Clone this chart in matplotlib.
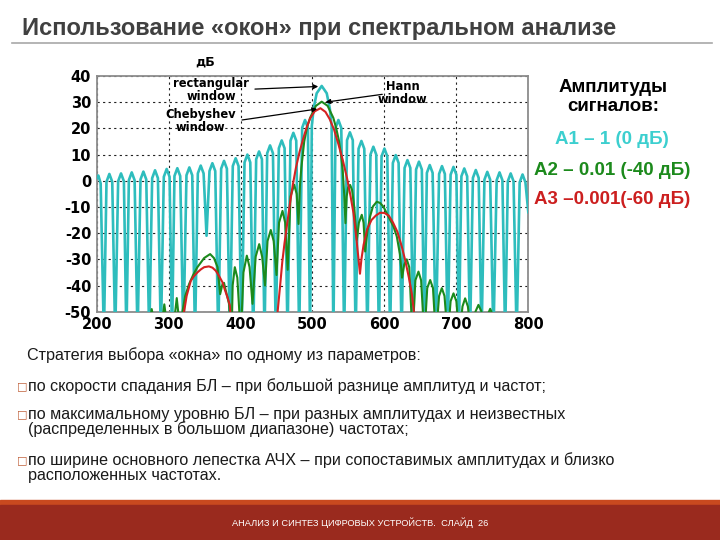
import matplotlib.pyplot as plt
from matplotlib.lines import Line2D
from matplotlib.patches import Rectangle

plt.rcParams['axes.unicode_minus'] = False

# Спектр (дБ) - прямоугольное окно (бирюзовый)
rect_x = [200, 202.3, 205.5, 210,
          213.6, 217.6, 221.6, 225.7,
          229.8, 233.8, 237.8, 241.3,
          244.7, 248.7, 252.7, 256.8,
          260.9, 264.9, 268.9, 273.0,
          277.1, 281.1, 285.1, 289.2,
          293.3, 297.3, 301.3, 304.7,
          308.1, 312.1, 316.1, 320.5,
          324.8, 328.8, 332.8, 336.7,
          340.6, 344.6, 348.6, 352.7,
          356.8, 360.8, 364.8, 369.0,
          373.0, 377.0, 381.0, 385.1,
          389.2, 393.2, 397.2, 401.4,
          405.5, 409.5, 413.5, 417.6,
          421.7, 425.7, 429.7, 433.3,
          437.0, 441.0, 445.0, 449.0,
          453.2, 457.2, 461.2, 465.3,
          469.4, 473.4, 477.4, 481.5,
          485.6, 489.6, 493.6, 496.6,
          499.0, 501.5, 505.8, 512.8, 519.8, 524.1, 526.6, 529.0,
          532.0, 536.0, 540.0, 544.0,
          548.0, 552.0, 556.0, 560.0,
          564.0, 568.0, 572.0, 576.3,
          580.6, 584.6, 588.6, 592.3,
          596.0, 600.0, 604.0, 607.9,
          611.7, 615.7, 619.7, 623.9,
          628.0, 632.0, 636.0, 640.0,
          644.0, 648.0, 652.0, 655.5,
          659.0, 663.0, 667.0, 671.5,
          676.0, 680.0, 684.0, 688.0,
          692.0, 696.0, 700.0, 703.5,
          707.0, 711.0, 715.0, 719.0,
          723.0, 727.0, 731.0, 735.0,
          739.0, 743.0, 747.0, 751.5,
          756.0, 760.0, 764.0, 767.8,
          771.5, 775.5, 779.5, 783.8,
          788.0, 792.0, 796.0, 800]
rect_y = [1.0, 2.0, -1.0, -60,
          -0.4, 2.6, -0.4, -60,
          -0.2, 2.8, -0.2, -60,
          0.2, 3.2, 0.2, -60,
          0.5, 3.5, 0.5, -60,
          1.0, 4.0, 1.0, -60,
          1.5, 4.5, 1.5, -60,
          1.8, 4.8, 1.8, -60,
          2.1, 5.1, 2.1, -60,
          2.8, 5.8, 2.8, -21,
          3.7, 6.7, 3.7, -60,
          4.6, 7.6, 4.6, -60,
          5.6, 8.6, 5.6, -60,
          7.0, 10.0, 7.0, -60,
          8.2, 11.2, 8.2, -60,
          10.5, 13.5, 10.5, -60,
          12.4, 15.4, 12.4, -60,
          15.3, 18.3, 15.3, -60,
          20.2, 23.2, 20.2, -60,
          20.8, 27.5, 33.4, 36.2, 33.4, 27.5, 20.8, -60,
          20.2, 23.2, 20.2, -60,
          15.5, 18.5, 15.5, -60,
          12.2, 15.2, 12.2, -60,
          10.0, 13.0, 10.0, -60,
          9.3, 12.3, 9.3, -60,
          6.8, 9.8, 6.8, -60,
          4.9, 7.9, 4.9, -60,
          4.3, 7.3, 4.3, -60,
          3.0, 6.0, 3.0, -60,
          2.6, 5.6, 2.6, -60,
          2.3, 5.3, 2.3, -60,
          1.7, 4.7, 1.7, -60,
          1.1, 4.1, 1.1, -60,
          0.4, 3.4, 0.4, -60,
          0.2, 3.2, 0.2, -60,
          -0.2, 2.8, -0.2, -60,
          -0.6, 2.4, -0.6, -12]

# Окно Ханна (зелёный)
hann_x = [270, 276.5, 283, 288, 294, 300, 305, 311.3, 317,
          319.2, 323, 328.5, 334, 340, 349.4, 357.7, 363, 368, 371.6,
          374.9, 377, 379.5, 384, 387.5,
          389, 392, 395.5, 400.4, 404, 408.7, 412.5, 416.6,
          421, 425.9, 430, 434, 437.5, 442, 446, 450,
          453.5, 458.3, 462, 465.5, 469.5, 474.5, 478, 480.6,
          482.5, 484.5, 488.5, 492.5, 496.6, 504.7, 512.8, 521, 529,
          533, 537, 540, 542, 544, 545.8,
          547.5, 549.5, 552.3, 555, 558, 561.6, 564.5, 568.5, 571, 573.2,
          576.5, 580, 584, 589.4, 594, 598.6, 605.6, 612.6, 617.2, 621.5,
          624.5, 627.5, 631, 634.5, 639, 643, 647.3, 651, 655.5,
          659.5, 663.6, 667.5, 671.5, 676, 679.8, 683.5, 688,
          692, 696, 700, 704, 708.5, 712.2, 716, 721,
          726.5, 730.7, 735, 739, 743, 747, 751, 755]
hann_y = [-60, -49.0, -60, -60, -47.2, -60, -60, -44.8, -60,
          -50, -44, -39.4, -36, -33, -29.5, -28, -29.5, -33, -43.3,
          -39.4, -39, -42, -47, -60,
          -40, -33, -37, -60, -35, -28.6, -33, -47,
          -29, -24.2, -29, -40, -23, -18.8, -23, -36,
          -16, -11.5, -16, -34, -6, -1.5, -5, -16.5,
          -2, 5, 15, 20.5, 24, 28.6, 30.2, 28.6, 24,
          20, 15, 9, 4, -5, -16.2,
          -6, -2.5, -1.6, -3.5, -10, -22.6, -16, -13, -16, -27,
          -19, -13.7, -9.8, -8.0, -8.5, -9.9, -13.7, -17.5, -21.3, -28,
          -37, -32, -30, -33, -60, -38, -34.7, -38, -60,
          -41, -37.9, -41, -60, -44, -41, -44, -60,
          -46, -43, -46, -60, -48, -44.9, -48, -60,
          -50, -47.4, -50, -60, -51.5, -48.9, -51.5, -60]

# Окно Чебышева (красный)
cheb_x = [318, 321.5, 325, 330.8, 335, 340, 345, 349.4, 356, 361, 365.6,
          370, 374.9, 378, 381.8, 385, 388.5,
          449, 451.5, 455, 458, 461, 465, 469, 473, 477, 482, 487, 492,
          497, 503, 511, 518, 524, 530, 536, 542, 548, 553, 557, 561,
          564, 566, 568, 571, 576, 582, 588, 594, 600, 606, 612, 618,
          624, 629, 634, 638, 641, 643]
cheb_y = [-60, -50, -44, -38.2, -36.5, -35, -33.8, -33, -32.7, -33.2, -34.4,
          -36.3, -38.8, -41.5, -44.5, -47.5, -60,
          -60, -50, -40, -31, -24, -16, -8, -1, 5, 11, 16, 20.5,
          24, 26.5, 27.7, 26.3, 23.5, 19.5, 14, 8, 1, -6, -12.4, -22,
          -30, -35.5, -30, -24.5, -18.5, -15, -13.3, -12.2, -12.3, -13.3, -16, -19.5,
          -25, -30.5, -37, -43, -50, -60]

x_ticks = [200, 300, 400, 500, 600, 700, 800]
y_ticks = [40, 30, 20, 10, 0, -10, -20, -30, -40, -50]

title = 'Использование «окон» при спектральном анализе'
amp_head = 'Амплитуды\nсигналов:'
amp_lines = ['А1 – 1 (0 дБ)', 'А2 – 0.01 (-40 дБ)', 'А3 –0.001(-60 дБ)']
intro = 'Стратегия выбора «окна» по одному из параметров:'
bullets = ['по скорости спадания БЛ – при большой разнице амплитуд и частот;',
           'по максимальному уровню БЛ – при разных амплитудах и неизвестных\n'
           '(распределенных в большом диапазоне) частотах;',
           'по ширине основного лепестка АЧХ – при сопоставимых амплитудах и близко\n'
           'расположенных частотах.']
footer = 'АНАЛИЗ И СИНТЕЗ ЦИФРОВЫХ УСТРОЙСТВ.  СЛАЙД  26'

W, H = 720, 540
arial = ['Liberation Sans', 'DejaVu Sans']

fig = plt.figure(figsize=(7.2, 5.4), dpi=100)

def fx(px):
    return px / W

def fy(py):
    return 1 - py / H

# заголовок
fig.text(fx(22), fy(28), title, fontsize=17, fontweight='bold', color='#404040',
         family=arial, va='center', ha='left')
fig.add_artist(Line2D([fx(12), fx(712)], [fy(43), fy(43)], color='#a8a8a8', lw=1.2))

# график
ax = fig.add_axes([fx(96.7), fy(311.7), (528.3 - 96.7) / W, (311.7 - 76) / H])
ax.plot(rect_x, rect_y, color='#2ebdbd', lw=1.9, zorder=3)
ax.plot(hann_x, hann_y, color='#1c8a1c', lw=1.5, zorder=4)
ax.plot(cheb_x, cheb_y, color='#d42222', lw=1.5, zorder=5)
ax.set_xlim(200, 800)
ax.set_ylim(-50, 40)
ax.set_xticks(x_ticks)
ax.set_yticks(y_ticks)
ax.tick_params(length=0, labelsize=10.5)
ax.tick_params(axis='x', pad=4)
ax.tick_params(axis='y', pad=4)
for lab in ax.get_xticklabels() + ax.get_yticklabels():
    lab.set_fontweight('bold')
ax.grid(True, color='#222222', linestyle=(0, (2, 3)), lw=0.8)
for s in ax.spines.values():
    s.set_color('#8c8c8c')
    s.set_linewidth(1.3)

ax.text(351, 43, 'дБ', fontsize=9, fontweight='bold', ha='center', va='bottom')

arr = dict(arrowstyle='-|>', color='black', lw=0.9, mutation_scale=7,
           shrinkA=0, shrinkB=0)
labels = [('rectangular\nwindow', (359, 34.6), (420, 35.0), (508, 36.0)),
          ('Hann\nwindow', (625, 33.5), (597, 33.0), (518, 30.0)),
          ('Chebyshev\nwindow', (344, 22.8), (402, 23.2), (506.5, 27.4))]
for txt, tpos, start, tip in labels:
    ax.text(tpos[0], tpos[1], txt, fontsize=8.3, fontweight='bold', ha='center',
            va='center', linespacing=1.0, zorder=6)
    ax.annotate('', xy=tip, xytext=start, arrowprops=arr, zorder=6)

# амплитуды сигналов
fig.text(fx(613), fy(97), amp_head, fontsize=13.5, fontweight='bold', ha='center',
         va='center', family=arial, linespacing=1.15)
amp_colors = ['#3ccfcf', '#1c8a1c', '#cc1f1f']
amp_pos = [(612, 140), (612, 170), (612, 199)]
for txt, c, (px, py) in zip(amp_lines, amp_colors, amp_pos):
    fig.text(fx(px), fy(py), txt, fontsize=13.5, fontweight='bold', color=c,
             ha='center', va='center', family=arial)

# текст внизу
fig.text(fx(27), fy(355), intro, fontsize=11.6, color='#1a1a1a', family=arial,
         va='center')
b_y = [386, 422, 468]
for txt, py in zip(bullets, b_y):
    first = py - (8 if '\n' in txt else 0)
    fig.text(fx(17), fy(first), '□', fontsize=8, color='#c0603a', va='center',
             family=['DejaVu Sans'])
    fig.text(fx(28), fy(py), txt, fontsize=11.6, color='#1a1a1a', family=arial,
             va='center', linespacing=1.0)

# нижний колонтитул
fig.add_artist(Rectangle((0, fy(505)), 1, fy(500) - fy(505), color='#c9491f',
                         transform=fig.transFigure))
fig.add_artist(Rectangle((0, 0), 1, fy(505), color='#9a2a1e',
                         transform=fig.transFigure))
fig.text(fx(360), fy(523), footer, fontsize=6.7, color='white', family=arial,
         ha='center', va='center')

fig.savefig('out.png', dpi=100)
